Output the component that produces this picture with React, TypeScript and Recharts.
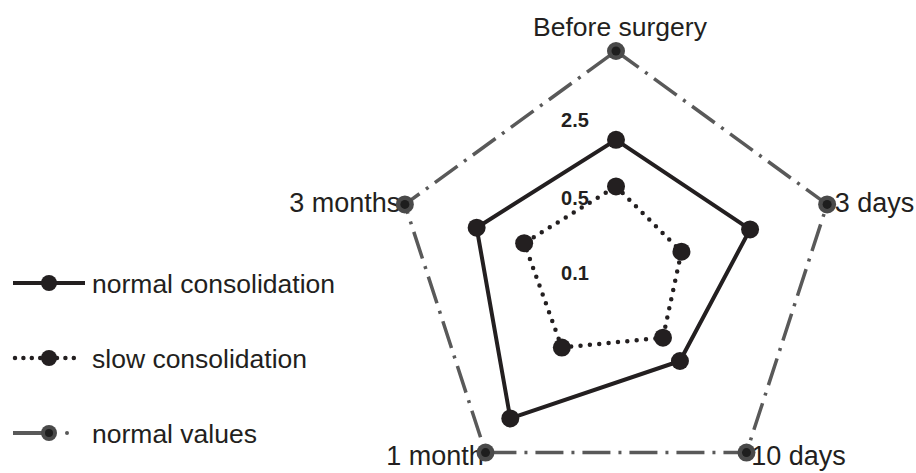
import React from 'react';
import { RadarChart, Radar, PolarAngleAxis, PolarRadiusAxis, Legend } from 'recharts';

const stages = ['Before surgery', '3 days', '10 days', '1 month', '3 months'];
const normalConsolidation = [0.6, 0.635, 0.49, 0.81, 0.66];
const slowConsolidation = [0.39, 0.31, 0.36, 0.415, 0.435];
const normalValues = [1, 1, 1, 1, 1];

const radiusTicks = [0, 0.34, 0.69];
const radiusTickLabels = ['0.1', '0.5', '2.5'];

const seriesNames = ['normal consolidation', 'slow consolidation', 'normal values'];

const data = stages.map((stage, i) => ({
  stage,
  normal: normalConsolidation[i],
  slow: slowConsolidation[i],
  reference: normalValues[i],
}));

const INK = '#231f20';
const GREY = '#595959';
const FONT = '"Liberation Sans", Arial, sans-serif';

const AngleTick = (props: any) => {
  const { x, y, payload, textAnchor, cy } = props;
  if (payload.value === stages[0]) {
    return (
      <text x={x + 4} y={y - 7} textAnchor="middle" fontSize={26.5} fontFamily={FONT} fill={INK}>
        {payload.value}
      </text>
    );
  }
  // the two bottom labels sit a little higher so they stay inside the picture
  const bottom = cy !== undefined ? y > cy : y > 300;
  return (
    <text
      x={textAnchor === 'end' ? x + 3 : x}
      y={bottom ? y - 3 : y + 1}
      textAnchor={textAnchor}
      dominantBaseline="central"
      fontSize={27}
      fontFamily={FONT}
      fill={INK}
    >
      {payload.value}
    </text>
  );
};

const RadiusTick = (props: any) => {
  const { x, y, payload } = props;
  const idx = radiusTicks.indexOf(payload.value);
  return (
    <text
      x={x - 41}
      y={y}
      textAnchor="middle"
      dominantBaseline="central"
      fontSize={20}
      fontWeight="bold"
      fontFamily={FONT}
      fill={INK}
    >
      {idx >= 0 ? radiusTickLabels[idx] : ''}
    </text>
  );
};

const BlackDot = (props: any) => <circle key={props.index} cx={props.cx} cy={props.cy} r={9} fill={INK} />;

const GreyDot = (props: any) => (
  <g key={props.index}>
    <circle cx={props.cx} cy={props.cy} r={9} fill="#4a4a4a" />
    <circle cx={props.cx} cy={props.cy} r={4.5} fill="#1e1e1e" />
  </g>
);

const LegendBox = () => {
  const rows = [33, 108, 183];
  return (
    <svg width={360} height={210}>
      <line x1={13} y1={rows[0]} x2={85} y2={rows[0]} stroke={INK} strokeWidth={4} />
      <circle cx={49} cy={rows[0]} r={8} fill={INK} />
      <line
        x1={15}
        y1={rows[1]}
        x2={82}
        y2={rows[1]}
        stroke={INK}
        strokeWidth={4.5}
        strokeDasharray="0 8.4"
        strokeLinecap="round"
      />
      <circle cx={49} cy={rows[1]} r={8} fill={INK} />
      <line x1={13} y1={rows[2]} x2={44} y2={rows[2]} stroke={GREY} strokeWidth={4} />
      <circle cx={49} cy={rows[2]} r={8} fill="#4a4a4a" />
      <circle cx={49} cy={rows[2]} r={4} fill="#1e1e1e" />
      <circle cx={67} cy={rows[2]} r={2} fill={GREY} />
      {seriesNames.map((name, i) => (
        <text
          key={name}
          x={92}
          y={rows[i] + 1}
          dominantBaseline="central"
          fontSize={26.5}
          fontFamily={FONT}
          fill={INK}
        >
          {name}
        </text>
      ))}
    </svg>
  );
};

export default function App() {
  return (
    <div style={{ position: 'absolute', left: 0, top: 0, width: 916, height: 473, background: '#fff' }}>
      <RadarChart
        width={916}
        height={473}
        data={data}
        cx={616}
        cy={273}
        outerRadius={222}
        margin={{ top: 0, right: 0, bottom: 0, left: 0 }}
      >
        <PolarAngleAxis dataKey="stage" axisLine={false} tickLine={false} tick={<AngleTick />} />
        <PolarRadiusAxis
          angle={90}
          type="number"
          domain={[0, 1]}
          ticks={radiusTicks}
          axisLine={false}
          tick={<RadiusTick />}
        />
        <Radar
          name={seriesNames[2]}
          dataKey="reference"
          stroke={GREY}
          strokeWidth={3.5}
          strokeDasharray="28 8 3 8"
          fill="none"
          fillOpacity={0}
          dot={GreyDot}
          isAnimationActive={false}
        />
        <Radar
          name={seriesNames[0]}
          dataKey="normal"
          stroke={INK}
          strokeWidth={4}
          fill="none"
          fillOpacity={0}
          dot={BlackDot}
          isAnimationActive={false}
        />
        <Radar
          name={seriesNames[1]}
          dataKey="slow"
          stroke={INK}
          strokeWidth={4.5}
          strokeDasharray="0 9.4"
          strokeLinecap="round"
          fill="none"
          fillOpacity={0}
          dot={BlackDot}
          isAnimationActive={false}
        />
        <Legend
          content={<LegendBox />}
          wrapperStyle={{ position: 'absolute', left: 0, top: 250, width: 360, height: 210 }}
        />
      </RadarChart>
    </div>
  );
}
